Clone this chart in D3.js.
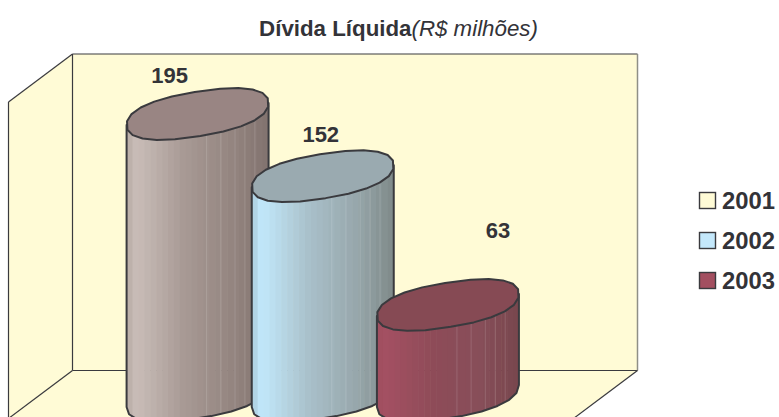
<!DOCTYPE html>
<html><head><meta charset="utf-8">
<script src="https://cdn.jsdelivr.net/npm/d3@7"></script>
<style>html,body{margin:0;padding:0;background:#fff}svg{display:block}text{font-family:"Liberation Sans",Arial,sans-serif;fill:#333338}</style>
</head><body><svg id="c" width="779" height="417"></svg>
<script>
const categories = ["2001","2002","2003"];
const values = [195,152,63];
const titleBold = "Dívida Líquida";
const titleItalic = "(R$ milhões)";
const swatchColors = ["#fffbd6","#c4e8fb","#a34f60"];
const sideStops = [
  ["#b8aca6","#c9bdb8","#a89a95","#958681","#82736f"],
  ["#aacbdb","#c2e8fb","#a9c0ca","#98a8ad","#7f8a89"],
  ["#a04e5f","#a35062","#8e4b58","#874e59","#78464d"]
];
const topColors = ["#998583","#9aaab0","#864a54"];
const labelDx = [-28,-2,50];
const labelDy = [-31,-34,-67];

const INK = "#3a3a3e";
const svg = d3.select("#c");
const x = d3.scaleBand().domain(categories).range([135,510.5]);
const y = d3.scaleLinear().domain([0,195]).range([396,114]);
const wall = {l:72.5,r:637.5,t:54,b:370.5,dx:-64,dy:48};

const pl = d=>d.map(p=>p.join(",")).join(" ");
svg.append("polygon").attr("points",pl([[wall.l,wall.t],[wall.r,wall.t],[wall.r,wall.b],[wall.l,wall.b]])).attr("fill","#fffbd6");
svg.append("polygon").attr("points",pl([[wall.l,wall.t],[wall.l+wall.dx,wall.t+wall.dy],[wall.l+wall.dx,wall.b+wall.dy],[wall.r+wall.dx,wall.b+wall.dy],[wall.r,wall.b],[wall.l,wall.b]])).attr("fill","#fffbd6");
const ln=(a,b,c=INK,w=1.2)=>svg.append("line").attr("x1",a[0]).attr("y1",a[1]).attr("x2",b[0]).attr("y2",b[1]).attr("stroke",c).attr("stroke-width",w);
ln([wall.l,wall.t],[wall.r,wall.t]);
ln([wall.l,wall.t],[wall.l,wall.b]);
ln([wall.l,wall.b],[wall.r,wall.b]);
ln([wall.l,wall.t],[wall.l+wall.dx,wall.t+wall.dy]);
ln([wall.l+wall.dx,wall.t+wall.dy],[wall.l+wall.dx,417]);
ln([wall.l,wall.b],[wall.l+wall.dx,wall.b+wall.dy]);
ln([wall.r,wall.t],[wall.r,wall.b],"#8f8f86",1.5);
ln([wall.r,wall.b],[wall.r+wall.dx,wall.b+wall.dy]);

const A=71, S=0.155, B=22.4, N=22, P=0.85;
const sp=(v)=>Math.sign(v)*Math.pow(Math.abs(v),P);
const rim=(cx,cy)=>d3.range(N).map(i=>{
  const t=i/N*2*Math.PI+0.12;
  const px=A*sp(Math.cos(t)), py=B*sp(Math.sin(t));
  return [cx+px, cy+py-S*px];
});
const line=d3.line();
const defs=svg.append("defs");
categories.forEach((cat,i)=>{
  const cx=x(cat)+x.bandwidth()/2, ty=y(values[i]), by=y(0);
  const samples=d3.range(0,12).map(k=>{
    const t=Math.PI-k/11*Math.PI;
    const px=A*sp(Math.cos(t));
    return [cx+px, by+B*sp(Math.sin(t))-S*px];
  });
  const body=[[cx-A,ty+S*A],...samples,[cx+A,ty-S*A]];
  const clipId="clip"+i;
  defs.append("clipPath").attr("id",clipId).append("path").attr("d",line(body)+"Z");
  const grp=svg.append("g").attr("clip-path",`url(#${clipId})`);
  const color=d3.scaleLinear().domain([0,.07,.4,.72,1]).range(sideStops[i]).interpolate(d3.interpolateRgb);
  const nb=24, bw=2*A/nb;
  d3.range(nb).forEach(k=>{
    grp.append("rect").attr("x",cx-A+k*bw).attr("y",ty-40).attr("width",bw+.6).attr("height",by-ty+90).attr("fill",color((k+.5)/nb));
  });
  [.56,.66,.76,.83,.9].forEach(f=>{
    grp.append("rect").attr("x",cx-A+f*2*A).attr("y",ty-40).attr("width",1).attr("height",by-ty+90).attr("fill","#fff").attr("opacity",.14);
  });
  svg.append("path").attr("d",line(body)+"Z").attr("fill","none").attr("stroke",INK).attr("stroke-width",2).attr("stroke-linejoin","round");
  svg.append("path").attr("d",line(rim(cx,ty))+"Z").attr("fill",topColors[i]).attr("stroke",INK).attr("stroke-width",2).attr("stroke-linejoin","round");
  svg.append("text").attr("x",cx+labelDx[i]).attr("y",ty+labelDy[i]).attr("text-anchor","middle").attr("font-size",22).attr("font-weight","bold").text(values[i]);
});

const tt=svg.append("text").attr("x",398.5).attr("y",36).attr("text-anchor","middle").attr("font-size",22.3);
tt.append("tspan").attr("font-weight","bold").text(titleBold);
tt.append("tspan").attr("font-style","italic").text(titleItalic);

const ly=d3.scalePoint().domain(categories).range([200.5,280.5]);
categories.forEach((cat,i)=>{
  svg.append("rect").attr("x",699.5).attr("y",ly(cat)-8).attr("width",16).attr("height",16).attr("fill",swatchColors[i]).attr("stroke",INK).attr("stroke-width",1.4);
  svg.append("text").attr("x",722).attr("y",ly(cat)+8).attr("font-size",23.8).attr("font-weight","bold").text(cat);
});
</script></body></html>
